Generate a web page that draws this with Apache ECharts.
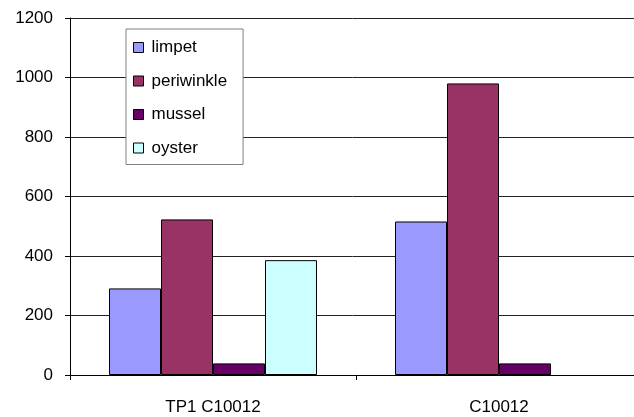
<!DOCTYPE html>
<html>
<head>
<meta charset="utf-8">
<script src="https://cdn.jsdelivr.net/npm/echarts@6/dist/echarts.min.js"></script>
<style>html,body{margin:0;padding:0;background:#fff;}#c{width:634px;height:417px;}</style>
</head>
<body>
<div id="c"></div>
<script>
var categories = ['TP1 C10012', 'C10012'];
var limpet = [291, 516];
var periwinkle = [523, 980];
var mussel = [39, 39];
var oyster = [386, null];
var yTicks = {min: 0, max: 1200, interval: 200};

var FONT = 'Liberation Sans, Arial, sans-serif';
var chart = echarts.init(document.getElementById('c'), null, {renderer: 'canvas'});
function s(name, data, color) {
  return {
    name: name, type: 'bar', data: data, barWidth: 52, barGap: '0%',
    itemStyle: {color: color, borderColor: '#000', borderWidth: 1},
    emphasis: {disabled: true}
  };
}
chart.setOption({
  animation: false,
  textStyle: {fontFamily: FONT},
  grid: {left: 70, top: 18, width: 572, height: 357, containLabel: false, outerBoundsMode: 'none'},
  legend: {
    orient: 'vertical', left: 126, top: 29,
    backgroundColor: '#fff', borderColor: '#808080', borderWidth: 1,
    padding: [10, 16, 8, 7], itemGap: 16.5, itemWidth: 10, itemHeight: 10,
    icon: 'rect',
    itemStyle: {borderColor: '#000', borderWidth: 1},
    textStyle: {fontSize: 17, color: '#000', fontFamily: FONT, padding: [0, 0, 0, 3]},
    data: ['limpet', 'periwinkle', 'mussel', 'oyster']
  },
  xAxis: {
    type: 'category', data: categories,
    axisLine: {lineStyle: {color: '#000', width: 1}},
    axisTick: {show: true, length: 5, lineStyle: {color: '#000'}},
    axisLabel: {color: '#000', fontSize: 17, margin: 24},
    splitLine: {show: false}
  },
  yAxis: {
    type: 'value', min: yTicks.min, max: yTicks.max, interval: yTicks.interval,
    axisLine: {show: true, lineStyle: {color: '#000', width: 1}},
    axisTick: {show: true, length: 5, lineStyle: {color: '#000'}},
    axisLabel: {color: '#000', fontSize: 17, margin: 17, formatter: function (v) { return String(v); }},
    splitLine: {show: true, lineStyle: {color: '#222', width: 1}}
  },
  series: [
    s('limpet', limpet, '#9999FF'),
    s('periwinkle', periwinkle, '#993366'),
    s('mussel', mussel, '#660066'),
    s('oyster', oyster, '#CCFFFF')
  ]
});
</script>
</body>
</html>
